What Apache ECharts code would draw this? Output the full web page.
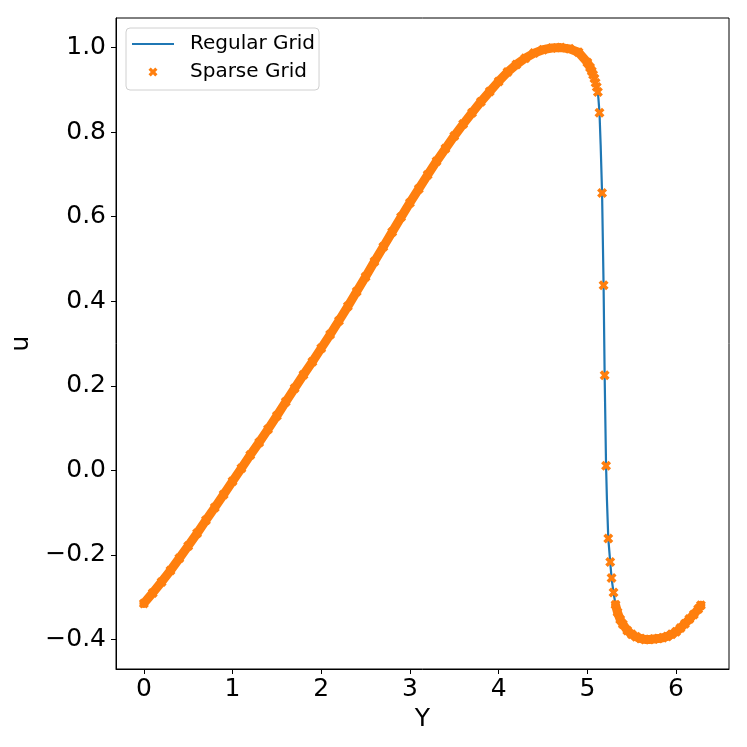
<!DOCTYPE html>
<html>
<head>
<meta charset="utf-8">
<script src="https://cdn.jsdelivr.net/npm/echarts@6/dist/echarts.min.js"></script>
<style>
html, body { margin: 0; padding: 0; background: #fff; }
#chart { width: 747px; height: 747px; }
</style>
</head>
<body>
<div id="chart"></div>
<script>
// regular grid solution
const regY = [0, 0.2, 0.4, 0.6, 0.8, 1.0, 1.2, 1.4, 1.6, 1.8, 2.0, 2.2, 2.4, 2.6, 2.8, 3.0, 3.2, 3.4, 3.6, 3.8, 4.0, 4.2, 4.4, 4.6, 4.8,
  4.9, 5.0,
  5.05, 5.08, 5.1, 5.119, 5.137, 5.15, 5.166, 5.183, 5.195, 5.211, 5.221, 5.236, 5.258, 5.273, 5.295, 5.318,
  5.35, 5.4, 5.5, 5.6, 5.7, 5.8, 5.9, 6.0, 6.1, 6.2, 6.28];
const regU = [-0.315, -0.264, -0.208, -0.149, -0.088, -0.026, 0.036, 0.097, 0.162, 0.226, 0.289, 0.354, 0.423, 0.494, 0.564, 0.633, 0.699, 0.761, 0.819, 0.872, 0.920, 0.960, 0.987, 0.999, 0.997,
  0.989, 0.965,
  0.944, 0.927, 0.912, 0.895, 0.846, 0.770, 0.656, 0.438, 0.225, 0.011, -0.070, -0.161, -0.217, -0.255, -0.289, -0.318,
  -0.342, -0.364, -0.388, -0.398, -0.400, -0.398, -0.393, -0.382, -0.363, -0.341, -0.319];

// sparse grid points (orange X markers)
const sparseY = [0, 0.1, 0.2, 0.3, 0.4, 0.5, 0.6, 0.7, 0.8, 0.9, 1.0, 1.1, 1.2, 1.3, 1.4, 1.5, 1.6, 1.7, 1.8, 1.9,
  2.0, 2.1, 2.2, 2.3, 2.4, 2.5, 2.6, 2.7, 2.8, 2.9, 3.0, 3.1, 3.2, 3.3, 3.4, 3.5, 3.6, 3.7, 3.8, 3.9,
  4.0, 4.1, 4.2, 4.3, 4.4, 4.5, 4.6, 4.7, 4.8, 4.9, 5.0,
  5.03, 5.05, 5.065, 5.08, 5.093, 5.106, 5.119, 5.137, 5.166, 5.183, 5.195, 5.211, 5.236, 5.258, 5.273, 5.295, 5.318,
  5.34, 5.37, 5.4, 5.45, 5.5, 5.55, 5.6, 5.65, 5.7, 5.75, 5.8, 5.85, 5.9, 5.95, 6.0, 6.05, 6.1, 6.15, 6.2, 6.25, 6.28];
const sparseU = [-0.315, -0.290, -0.264, -0.237, -0.208, -0.179, -0.149, -0.118, -0.088, -0.057, -0.026, 0.005, 0.036, 0.066, 0.097, 0.129, 0.162, 0.194, 0.226, 0.257,
  0.289, 0.321, 0.354, 0.388, 0.423, 0.458, 0.494, 0.529, 0.564, 0.599, 0.633, 0.666, 0.699, 0.731, 0.761, 0.791, 0.819, 0.846, 0.872, 0.896,
  0.920, 0.942, 0.960, 0.975, 0.987, 0.995, 0.999, 1.000, 0.997, 0.989, 0.965,
  0.953, 0.944, 0.936, 0.927, 0.917, 0.907, 0.895, 0.846, 0.656, 0.438, 0.225, 0.011, -0.161, -0.217, -0.255, -0.289, -0.318,
  -0.336, -0.353, -0.364, -0.379, -0.388, -0.394, -0.398, -0.400, -0.400, -0.399, -0.398, -0.396, -0.393, -0.388, -0.382, -0.373, -0.363, -0.352, -0.341, -0.328, -0.319];

const xTicks = [0, 1, 2, 3, 4, 5, 6];
const yTicks = [-0.4, -0.2, 0.0, 0.2, 0.4, 0.6, 0.8, 1.0];

const blue = "#1f77b4";
const orange = "#ff7f0e";
const font = "DejaVu Sans";
const xMark = "path://M0,2.5 L2.5,0 L5,2.5 L7.5,0 L10,2.5 L7.5,5 L10,7.5 L7.5,10 L5,7.5 L2.5,10 L0,7.5 L2.5,5 Z";
const lineIcon = "path://M0,0 L42,0 L42,2 L0,2 Z";

// where the sparse points are packed so tight they read as a solid band
const bandEnd = 5.05;
const bandStart = 5.318;

const regData = regY.map((y, i) => [y, regU[i]]);
const sparseData = sparseY.map((y, i) => [y, sparseU[i]]);
const bandLeft = sparseData.filter((p) => p[0] <= bandEnd);
const bandRight = sparseData.filter((p) => p[0] >= bandStart);

const chart = echarts.init(document.getElementById("chart"));

const bandSeries = (data) => ({
  type: "line",
  data: data,
  symbol: "none",
  silent: true,
  z: 3,
  lineStyle: { color: orange, width: 9, cap: "round", join: "round" },
});

chart.setOption({
  animation: false,
  backgroundColor: "#fff",
  grid: {
    left: 116,
    top: 18,
    width: 613,
    height: 651,
    show: true,
    borderColor: "#000",
    borderWidth: 1,
  },
  legend: {
    orient: "vertical",
    left: 126,
    top: 28,
    padding: [6, 4, 8, 6],
    itemWidth: 42,
    itemHeight: 9,
    itemGap: 8,
    backgroundColor: "#fff",
    borderColor: "#d0d0d0",
    borderWidth: 1,
    borderRadius: 4,
    textStyle: { fontFamily: font, fontSize: 20, color: "#000", lineHeight: 20, padding: [0, 0, 0, 11] },
    data: [
      { name: "Regular Grid", icon: lineIcon },
      { name: "Sparse Grid", icon: xMark },
    ],
  },
  xAxis: {
    type: "value",
    min: -0.314,
    max: 6.597,
    name: "Y",
    nameLocation: "middle",
    nameGap: 35,
    nameTextStyle: { fontFamily: font, fontSize: 25, color: "#000" },
    axisLine: { show: true, onZero: false, lineStyle: { color: "#000", width: 1 } },
    axisTick: { show: true, length: 5, customValues: xTicks, lineStyle: { color: "#000", width: 1 } },
    axisLabel: {
      customValues: xTicks,
      margin: 8,
      fontFamily: font,
      fontSize: 25,
      color: "#000",
      formatter: (v) => String(v),
    },
    splitLine: { show: false },
  },
  yAxis: {
    type: "value",
    min: -0.47,
    max: 1.07,
    name: "u",
    nameLocation: "middle",
    nameRotate: 90,
    nameGap: 63,
    nameTextStyle: { fontFamily: font, fontSize: 25, color: "#000" },
    axisLine: { show: true, onZero: false, lineStyle: { color: "#000", width: 1 } },
    axisTick: { show: true, length: 5, customValues: yTicks, lineStyle: { color: "#000", width: 1 } },
    axisLabel: {
      customValues: yTicks,
      margin: 10,
      fontFamily: font,
      fontSize: 25,
      color: "#000",
      formatter: (v) => (v < 0 ? "\u2212" + Math.abs(v).toFixed(1) : v.toFixed(1)),
    },
    splitLine: { show: false },
  },
  series: [
    {
      name: "Regular Grid",
      type: "line",
      data: regData,
      symbol: "none",
      z: 2,
      lineStyle: { color: blue, width: 2.2 },
      itemStyle: { color: blue },
    },
    bandSeries(bandLeft),
    bandSeries(bandRight),
    {
      name: "Sparse Grid",
      type: "scatter",
      data: sparseData,
      symbol: xMark,
      symbolSize: 10,
      z: 4,
      itemStyle: { color: orange, opacity: 1 },
    },
  ],
});
</script>
</body>
</html>
